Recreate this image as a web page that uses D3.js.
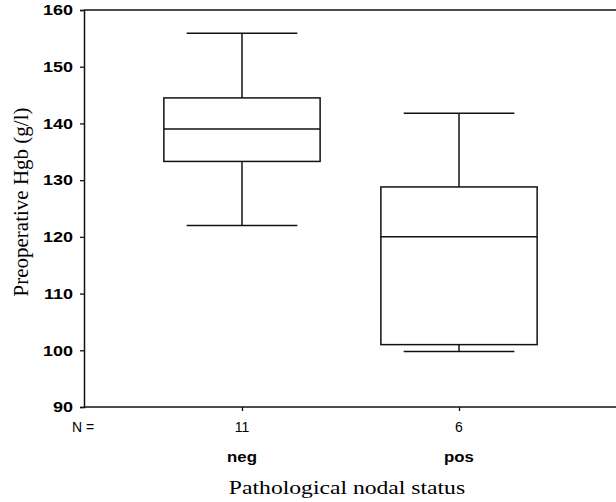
<!DOCTYPE html>
<html>
<head>
<meta charset="utf-8">
<script src="https://cdn.jsdelivr.net/npm/d3@7"></script>
<style>
  body { margin: 0; background: #fff; }
  svg { display: block; }
</style>
</head>
<body>
<div id="chart"></div>
<script>
// box plot data
var categories = ["neg", "pos"];
var counts = [11, 6];
var whiskerLow = [122, 99.8];
var q1 = [133.3, 101];
var medians = [139, 120];
var q3 = [144.5, 128.8];
var whiskerHigh = [155.9, 141.8];
var yTicks = [90, 100, 110, 120, 130, 140, 150, 160];

var W = 616, H = 502;
var plotL = 84, plotR = 617, plotT = 10, plotB = 407;
var stretch = 1.2; // the scanned figure is wider than tall, text looks stretched

var svg = d3.select("#chart").append("svg")
  .attr("width", W).attr("height", H);

var y = d3.scaleLinear().domain([90, 160]).range([plotB, plotT]);
var x = d3.scalePoint().domain(categories).range([plotL, plotR]).padding(0.728);
var step = x.step();
var boxW = step * 0.72;
var capW = step * 0.51;

var ink = "#111";
var sans = "Liberation Sans, Arial, sans-serif";
var serif = "Liberation Serif, Times New Roman, serif";

// frame: top line + axes
svg.append("line").attr("x1", plotL).attr("x2", W).attr("y1", plotT).attr("y2", plotT)
  .attr("stroke", ink).attr("stroke-width", 1.5);

var yAxis = svg.append("g").attr("transform", "translate(" + plotL + ",0)")
  .call(d3.axisLeft(y).tickValues(yTicks).tickSize(4).tickFormat(d3.format("d")));
yAxis.select(".domain").attr("stroke", ink).attr("stroke-width", 1.5);
yAxis.selectAll(".tick line").attr("stroke", ink).attr("stroke-width", 1.3);
yAxis.selectAll("text").attr("fill", "#000")
  .attr("x", 0)
  .attr("transform", "translate(-11,0) scale(" + stretch + ",1)")
  .style("font-family", sans)
  .style("font-weight", "bold").style("font-size", "15px");

var xAxis = svg.append("g").attr("transform", "translate(0," + plotB + ")")
  .call(d3.axisBottom(x).tickSize(4).tickFormat(""));
xAxis.select(".domain").attr("d", "M" + plotL + ",0H" + W).attr("stroke", ink).attr("stroke-width", 1.5);
xAxis.selectAll(".tick line").attr("stroke", ink).attr("stroke-width", 1.3);

// boxes
var g = svg.selectAll(".box").data(categories).enter().append("g")
  .attr("class", "box");

g.append("line")
  .attr("x1", function(d) { return x(d); }).attr("x2", function(d) { return x(d); })
  .attr("y1", function(d, i) { return y(whiskerHigh[i]); })
  .attr("y2", function(d, i) { return y(q3[i]); })
  .attr("stroke", ink).attr("stroke-width", 1.5);
g.append("line")
  .attr("x1", function(d) { return x(d); }).attr("x2", function(d) { return x(d); })
  .attr("y1", function(d, i) { return y(q1[i]); })
  .attr("y2", function(d, i) { return y(whiskerLow[i]); })
  .attr("stroke", ink).attr("stroke-width", 1.5);
g.append("line")
  .attr("x1", function(d) { return x(d) - capW / 2; }).attr("x2", function(d) { return x(d) + capW / 2; })
  .attr("y1", function(d, i) { return y(whiskerHigh[i]); })
  .attr("y2", function(d, i) { return y(whiskerHigh[i]); })
  .attr("stroke", ink).attr("stroke-width", 1.5);
g.append("line")
  .attr("x1", function(d) { return x(d) - capW / 2; }).attr("x2", function(d) { return x(d) + capW / 2; })
  .attr("y1", function(d, i) { return y(whiskerLow[i]); })
  .attr("y2", function(d, i) { return y(whiskerLow[i]); })
  .attr("stroke", ink).attr("stroke-width", 1.5);
g.append("rect")
  .attr("x", function(d) { return x(d) - boxW / 2; })
  .attr("width", boxW)
  .attr("y", function(d, i) { return y(q3[i]); })
  .attr("height", function(d, i) { return y(q1[i]) - y(q3[i]); })
  .attr("fill", "#fff").attr("stroke", ink).attr("stroke-width", 1.5);
g.append("line")
  .attr("x1", function(d) { return x(d) - boxW / 2; }).attr("x2", function(d) { return x(d) + boxW / 2; })
  .attr("y1", function(d, i) { return y(medians[i]); })
  .attr("y2", function(d, i) { return y(medians[i]); })
  .attr("stroke", ink).attr("stroke-width", 1.5);

// N = row and category labels
svg.append("text").attr("x", 72).attr("y", 432).text("N =")
  .style("font-family", sans).style("font-size", "14px");
g.append("text").attr("x", function(d) { return x(d); }).attr("y", 432)
  .attr("text-anchor", "middle")
  .text(function(d, i) { return counts[i]; })
  .style("font-family", sans).style("font-size", "14px");
g.append("text")
  .attr("transform", function(d) { return "translate(" + x(d) + ",462) scale(" + stretch + ",1)"; })
  .attr("text-anchor", "middle")
  .text(function(d) { return d; })
  .style("font-family", sans).style("font-weight", "900").style("font-size", "14px");

// axis titles
svg.append("text")
  .attr("transform", "translate(347,494) scale(" + stretch + ",1)")
  .attr("text-anchor", "middle")
  .text("Pathological nodal status")
  .style("font-family", serif).style("font-size", "19.7px");
svg.append("text")
  .attr("transform", "translate(28,202) rotate(-90)")
  .attr("text-anchor", "middle")
  .text("Preoperative Hgb (g/l)")
  .style("font-family", serif).style("font-size", "21px");
</script>
</body>
</html>
